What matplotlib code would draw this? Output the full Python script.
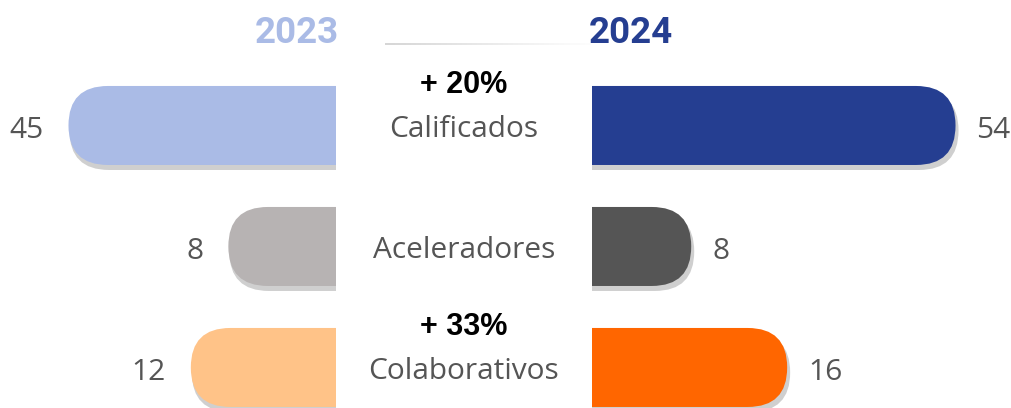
import matplotlib
matplotlib.use("Agg")
import matplotlib.pyplot as plt
from matplotlib.patches import FancyBboxPatch, Rectangle
from matplotlib.transforms import IdentityTransform

# ---------------- data ----------------
categories = ["Calificados", "Aceleradores", "Colaborativos"]
values_2023 = [45, 8, 12]
values_2024 = [54, 8, 16]
growth_labels = ["+ 20%", "", "+ 33%"]
years = ["2023", "2024"]

# ---------------- style ----------------
colors_2023 = ["#AABBE6", "#B7B3B3", "#FFC388"]
colors_2024 = ["#253E91", "#555555", "#FF6600"]
year_colors = ["#AABBE6", "#253E91"]
shadow_color = "#CFCFCF"
text_grey = "#555555"
label_font = "Open Sans"

W, H, DPI = 1012, 408, 100
fig = plt.figure(figsize=(W / DPI, H / DPI), dpi=DPI)
fig.patch.set_facecolor("white")

panel_l, panel_r = 336, 592
ax_l = fig.add_axes([0, 0, panel_l / W, 1])
ax_r = fig.add_axes([panel_r / W, 0, (W - panel_r) / W, 1])
for ax in (ax_l, ax_r):
    ax.set_xscale("log")
    ax.set_ylim(2.335, -1.037)
    ax.axis("off")
ax_l.set_xlim(94.3, 2.50)
ax_r.set_xlim(3.906, 81.2)

bar_h = 0.653
ident = IdentityTransform()


def pill(x0, x1, y0, y1, color, z):
    h = y1 - y0
    p = FancyBboxPatch((x0, y0), x1 - x0, h,
                       boxstyle=f"round,pad=0,rounding_size={h / 2}",
                       transform=ident, facecolor=color, edgecolor="none",
                       zorder=z)
    fig.add_artist(p)


def fig_text(x, y_disp, s, **kw):
    fig.text(x / W, y_disp / H, s, **kw)


def cap_px(pt, ratio=0.714):
    return ratio * pt * DPI / 72.0


val_pt = 21.5
for i, cat in enumerate(categories):
    # left (2023)
    xe, yc = ax_l.transData.transform((values_2023[i], i))
    _, ya = ax_l.transData.transform((values_2023[i], i - bar_h / 2))
    _, yb = ax_l.transData.transform((values_2023[i], i + bar_h / 2))
    y0, y1 = min(ya, yb), max(ya, yb)
    pill(xe + 1, panel_l + 80, y0 - 5, y1 - 5, shadow_color, 2)
    pill(xe, panel_l + 80, y0, y1, colors_2023[i], 3)
    fig_text(xe - 25, yc - cap_px(val_pt) / 2 - 2, str(values_2023[i]),
             ha="right", va="baseline", fontsize=val_pt, color=text_grey,
             family=label_font, zorder=6)

    # right (2024)
    xe, yc = ax_r.transData.transform((values_2024[i], i))
    _, ya = ax_r.transData.transform((values_2024[i], i - bar_h / 2))
    _, yb = ax_r.transData.transform((values_2024[i], i + bar_h / 2))
    y0, y1 = min(ya, yb), max(ya, yb)
    pill(panel_r - 80 + 3, xe + 3, y0 - 5, y1 - 5, shadow_color, 2)
    pill(panel_r - 80, xe, y0, y1, colors_2024[i], 3)
    fig_text(xe + 21, yc - cap_px(val_pt) / 2 - 2, str(values_2024[i]),
             ha="left", va="baseline", fontsize=val_pt, color=text_grey,
             family=label_font, zorder=6)

# central panel
panel_top = H - 44
fig.add_artist(Rectangle((panel_l, -10), panel_r - panel_l, panel_top + 10,
                         transform=ident, facecolor="white", edgecolor="none",
                         zorder=5))
# faint top rule with fade
n = 40
x_a, x_b = 385, 590
for k in range(n):
    t = k / (n - 1)
    g = 0.84 + 0.15 * t
    fig.add_artist(Rectangle((x_a + (x_b - x_a) * k / n, panel_top - 0.5),
                             (x_b - x_a) / n + 0.5, 1.2, transform=ident,
                             facecolor=(g, g, g), edgecolor="none", zorder=5.5))

# centre labels
cx = (panel_l + panel_r) / 2
cat_pt = 21.5
pct_pt = 22
for i, cat in enumerate(categories):
    _, yc = ax_l.transData.transform((10, i))
    fig_text(cx, yc - cap_px(cat_pt) / 2 - 1, cat, ha="center", va="baseline",
             fontsize=cat_pt, color=text_grey, family=label_font, zorder=7)
    if growth_labels[i]:
        fig_text(cx, yc + 43 - cap_px(pct_pt) / 2, growth_labels[i],
                 ha="center", va="baseline", fontsize=pct_pt, color="black",
                 family="Liberation Sans", fontweight="bold", zorder=7)

# year headers
yr_pt = 26.5
fig_text(339, H - 30 - cap_px(yr_pt) / 2, years[0], ha="right", va="baseline",
         fontsize=yr_pt, fontweight="bold", color=year_colors[0],
         family="Roboto", zorder=7)
fig_text(589, H - 30 - cap_px(yr_pt) / 2, years[1], ha="left", va="baseline",
         fontsize=yr_pt, fontweight="bold", color=year_colors[1],
         family="Roboto", zorder=7)

fig.savefig("out.png", dpi=DPI, facecolor="white")
